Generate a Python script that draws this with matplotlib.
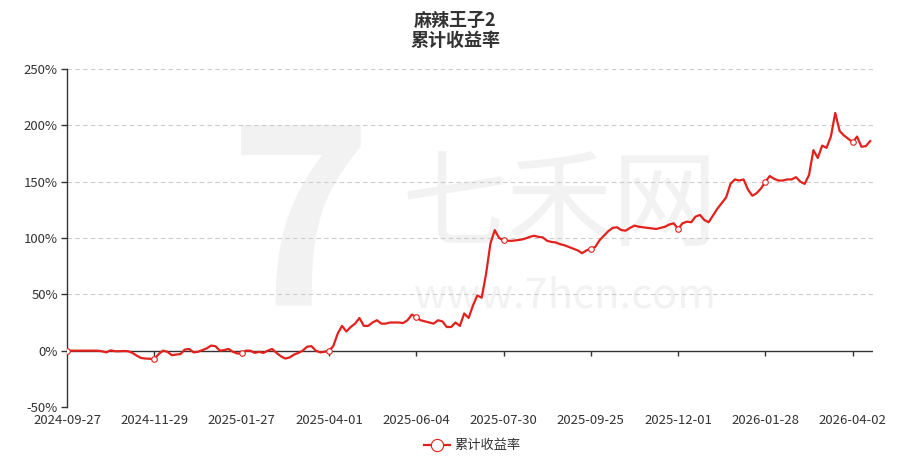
import numpy as np
import matplotlib
matplotlib.use("Agg")
import matplotlib.pyplot as plt

plt.rcParams['font.family'] = ['Noto Sans CJK SC', 'DejaVu Sans']

# 数据: 交易日序号 (每2个交易日取一点) 与累计收益率(%)
day_idx = list(range(0, 370, 2))
cum_ret = [
    # 2024-09-27 ~ 2024-11-29
    0, 0, 0, 0, 0, 0, 0, 0, -0.5, -1.5, 0.3, -0.5, -0.5, -0.3, -0.5, -2, -4.5, -6.5, -7, -7.2,
    # 2024-11-29 ~ 2025-01-27
    -7.5, -3, 0, -1, -4, -3.5, -3, 1, 1.5, -1.5, -1, 0.5, 2, 4.5, 4, 0, 0.5, 1.5, -1, -2.5,
    # 2025-01-27 ~ 2025-04-01
    -2.5, 0, 0, -2, -1, -2, 0, 1.5, -2, -5, -7, -6, -3.5, -2, 0, 3.5, 4, 0, -1.5, -1,
    # 2025-04-01 ~ 2025-06-04
    0, 4, 15, 22, 17, 21, 24, 29, 22, 22, 25, 27, 24, 24, 25, 25, 25, 24.5, 27, 32,
    # 2025-06-04 ~ 2025-07-30
    30, 27, 26, 25, 24, 27, 26, 21, 21, 25, 22, 33, 29, 40, 49, 47, 68, 95, 107, 100,
    # 2025-07-30 ~ 2025-09-25
    98, 97.5, 97.5, 98, 98.5, 99.5, 101, 102, 101, 100.5, 97.5, 96.5, 96, 94.5, 93.5, 92, 90.5, 89, 86.5, 89,
    # 2025-09-25 ~ 2025-12-01
    90.5, 92, 98, 102, 106, 109, 109.5, 107, 106.5, 109, 111, 110, 109.5, 109, 108.5, 108, 109, 110, 112, 113,
    # 2025-12-01 ~ 2026-01-28
    108, 113, 114.5, 114, 119, 120.5, 116, 114, 120, 126, 131, 136, 148, 152, 151, 152, 143, 137.5, 139.8, 144,
    # 2026-01-28 ~ 2026-04-02
    150, 155, 152.5, 151, 151, 152, 152, 154, 150, 148, 156, 178, 171, 182, 180, 190, 211, 195, 191, 188,
    # 2026-04-02 ~
    185, 190, 181, 181.5, 186,
]
tick_idx = [0, 40, 80, 120, 160, 200, 240, 280, 320, 360]
tick_labels = ['2024-09-27', '2024-11-29', '2025-01-27', '2025-04-01', '2025-06-04',
               '2025-07-30', '2025-09-25', '2025-12-01', '2026-01-28', '2026-04-02']
y_ticks = [-50, 0, 50, 100, 150, 200, 250]

line_color = '#e3211c'
text_color = '#333333'
mark_color = '#f2f2f2'

fig = plt.figure(figsize=(9.11, 4.66), dpi=100)
ax = fig.add_axes([67 / 911, 1 - 407 / 466, 806 / 911, 338 / 466])

# 水印 (放在坐标轴下层)
fig.text(0.33, 0.50, '7', fontsize=175, fontweight='bold', color=mark_color,
         ha='center', va='center', zorder=-1)
fig.text(0.615, 0.555, '七禾网', fontsize=76, color=mark_color,
         ha='center', va='center', zorder=-1)
fig.text(0.62, 0.365, 'www.7hcn.com', fontsize=30, color=mark_color,
         ha='center', va='center', zorder=-1)
ax.set_facecolor('none')

x = np.array(day_idx)
y = np.array(cum_ret)
marker_at = [day_idx.index(t) for t in tick_idx]
line, = ax.plot(x, y, color=line_color, lw=1.6, zorder=3, label='累计收益率',
                marker='o', markevery=marker_at, markersize=4,
                markerfacecolor='white', markeredgecolor=line_color, markeredgewidth=0.8)

ax.set_xlim(0, 369.3)
ax.set_ylim(-50, 250)

# 网格
for v in y_ticks:
    if v != 0:
        ax.axhline(v, color='#cccccc', lw=0.8, ls=(0, (4, 3)), zorder=1)
ax.axhline(0, color=text_color, lw=1, zorder=2)
ax.vlines(tick_idx[1:], -4.4, 0, color=text_color, lw=1, zorder=2)

ax.set_yticks(y_ticks)
ax.set_yticklabels([f'{v}%' for v in y_ticks])
ax.set_xticks(tick_idx)
ax.set_xticklabels(tick_labels)
ax.tick_params(axis='y', length=4.5, width=1, color=text_color, labelsize=9.5,
               labelcolor=text_color, pad=2)
ax.tick_params(axis='x', length=0, labelsize=9.5, labelcolor=text_color, pad=5)

for s in ['top', 'right', 'bottom']:
    ax.spines[s].set_visible(False)
ax.spines['left'].set_color(text_color)
ax.spines['left'].set_linewidth(1)

fig.text(0.5, 1 - 20 / 466, '麻辣王子2', ha='center', va='center',
         fontsize=13, fontweight='bold', color=text_color)
fig.text(0.5, 1 - 40 / 466, '累计收益率', ha='center', va='center',
         fontsize=13, fontweight='bold', color=text_color)

fig.legend(handles=[line], loc='center', bbox_to_anchor=(472 / 911, 1 - 446 / 466),
           frameon=False, fontsize=9.5, handlelength=2.0, handletextpad=0.3,
           markerscale=2.2, labelcolor=text_color)

fig.savefig('out.png', dpi=100)
